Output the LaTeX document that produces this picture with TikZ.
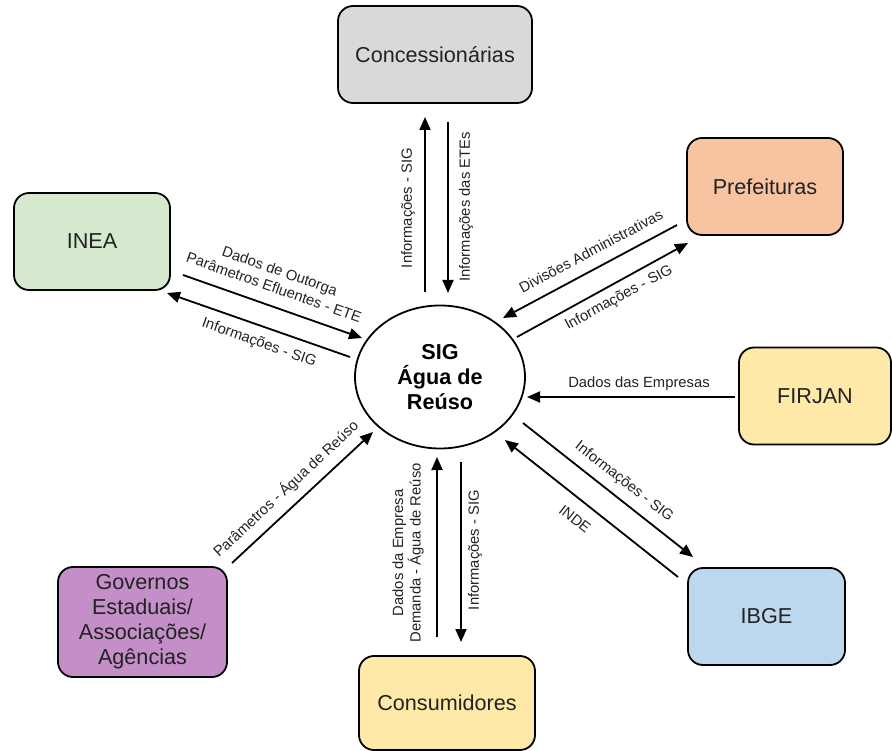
\documentclass[tikz,border=0pt]{standalone}
\usepackage{fontspec}
\setmainfont{Liberation Sans}
\usetikzlibrary{arrows.meta,shapes.geometric}

\definecolor{conccol}{HTML}{D9D9D9}
\definecolor{prefcol}{HTML}{F7C3A1}
\definecolor{ineacol}{HTML}{D6E9CF}
\definecolor{yelcol}{HTML}{FFE9A8}
\definecolor{ibgecol}{HTML}{BDD7EE}
\definecolor{govcol}{HTML}{C48FC8}
\definecolor{txtcol}{HTML}{222222}

\tikzset{
  box/.style={draw, line width=1.8pt, rounded corners=15pt, fill=#1,
    text=txtcol, align=center, font=\fontsize{21.6}{25}\selectfont},
  lbl/.style={text=txtcol, align=center, inner sep=1pt,
    font=\fontsize{14.8}{17.5}\selectfont},
  flow/.style={-{Triangle[length=13pt,width=11pt]}, line width=1.8pt}
}

\begin{document}
\begin{tikzpicture}[x=1pt,y=-1pt]
\useasboundingbox (0,0) rectangle (892,751);

% central system
\node[draw, ellipse, line width=1.8pt, minimum width=170, minimum height=143,
  inner sep=0pt, align=center, font=\fontsize{21.6}{25}\selectfont\bfseries]
  (sig) at (440,377) {SIG\\Água de\\Reúso};

% partners
\node[box=conccol, minimum width=194, minimum height=97] (conc) at (435,54.5) {Concessionárias};
\node[box=prefcol, minimum width=156, minimum height=97] (pref) at (765,186.5) {Prefeituras};
\node[box=ineacol, minimum width=156, minimum height=97] (inea) at (92,241.5) {INEA};
\node[box=yelcol, minimum width=152, minimum height=97] (firjan) at (815,396) {FIRJAN};
\node[box=ibgecol, minimum width=157, minimum height=97] (ibge) at (766.5,616.5) {IBGE};
\node[box=govcol, minimum width=169, minimum height=110] (gov) at (142.5,622) {Governos\\Estaduais/\\Associações/\\Agências};
\node[box=yelcol, minimum width=176, minimum height=94] (cons) at (447,703) {Consumidores};

% arrow ends
\foreach \nm/\px/\py in {ia/183/275, ib/362/338, ic/350/357, id/167/293,
    ca/425/292, cb/425/117, cc/448/122, cd/448/293,
    pa/677/225, pb/503/318, pc/517/337, pd/688/243,
    fa/735/397, fb/527/397,
    ba/523/423, bb/693/557, bc/678/577, bd/505/440,
    ga/232/563, gb/373/432,
    sa/437/637, sb/437/457, sc/461/462, sd/461/642}
  \coordinate (\nm) at (\px,\py);

\foreach \a/\b in {ia/ib, ic/id, ca/cb, cc/cd, pa/pb, pc/pd, fa/fb,
    ba/bb, bc/bd, ga/gb, sa/sb, sc/sd}
  \draw[flow] (\a) -- (\b);

% labels
\node[lbl, rotate=-19.4] (lia) at (277,279) {Dados de Outorga\\Parâmetros Efluentes - ETE};
\node[lbl, rotate=-19.4] (lic) at (259,343) {Informações - SIG};
\node[lbl, rotate=90] (lca) at (408,208) {Informações - SIG};
\node[lbl, rotate=90] (lcc) at (466,207) {Informações das ETEs};
\node[lbl, rotate=28] (lpa) at (591,251) {Divisões Administrativas};
\node[lbl, rotate=28.5] (lpc) at (619,298) {Informações - SIG};
\node[lbl] (lfa) at (639,384) {Dados das Empresas};
\node[lbl, rotate=-38.2] (lba) at (624,482) {Informações - SIG};
\node[lbl, rotate=-38.2] (lbc) at (575,519) {INDE};
\node[lbl, rotate=43] (lga) at (286,489) {Parâmetros - Água de Reúso};
\node[lbl, rotate=90] (lsa) at (408,553) {Dados da Empresa\\Demanda - Água de Reúso};
\node[lbl, rotate=90] (lsc) at (475,550) {Informações - SIG};
\end{tikzpicture}
\end{document}
